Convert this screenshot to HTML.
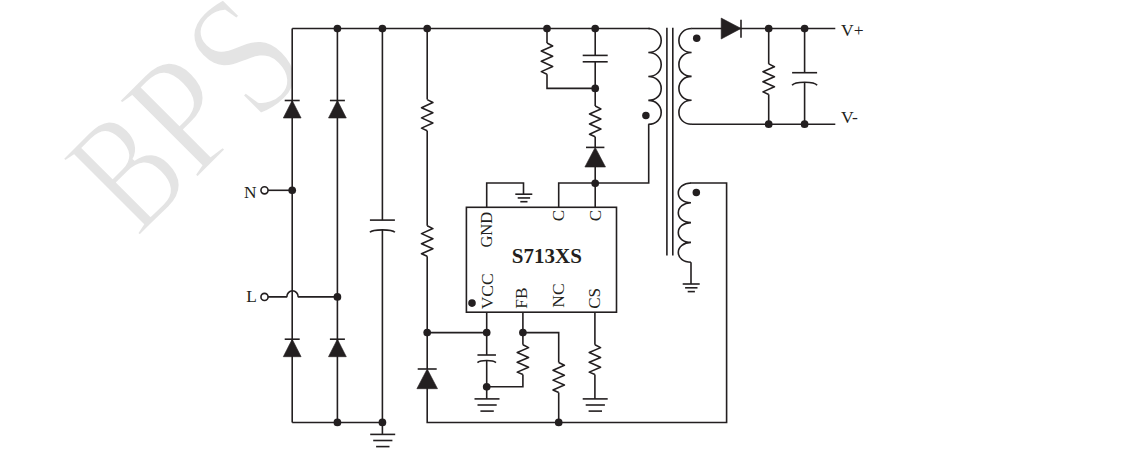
<!DOCTYPE html>
<html><head><meta charset="utf-8"><title>S713XS typical application</title>
<style>
html,body{margin:0;padding:0;background:#fff;}
body{width:1146px;height:469px;overflow:hidden;}
svg{display:block;}
svg text{font-family:"Liberation Serif",serif;fill:#231f20;stroke:none;}
</style></head><body>
<svg width="1146" height="469" viewBox="0 0 1146 469">
<rect width="1146" height="469" fill="#fff"/>
<defs><clipPath id="wm"><rect x="0" y="0" width="292.2" height="469"/></clipPath></defs>
<g clip-path="url(#wm)" style="fill:#e4e4e4" font-size="161">
<text transform="translate(137.6 238.4) rotate(-45) scale(0.76 1.04)" style="fill:#e4e4e4;stroke:#fff;stroke-width:2.5px" vector-effect="non-scaling-stroke">B</text>
<text transform="translate(194.0 181.4) rotate(-45) scale(0.9 1.045)" style="fill:#e4e4e4;stroke:#fff;stroke-width:2.5px" vector-effect="non-scaling-stroke">P</text>
<text transform="translate(257.4 123.7) rotate(-45) scale(0.86 1.09)" style="fill:#e4e4e4;stroke:#fff;stroke-width:2.5px" vector-effect="non-scaling-stroke">S</text>
</g>
<g fill="none" stroke="#231f20" stroke-linecap="butt" stroke-linejoin="miter">
<line x1="292.2" y1="28.55" x2="292.2" y2="422.45" stroke-width="1.6"/>
<line x1="337.4" y1="28.55" x2="337.4" y2="422.45" stroke-width="1.6"/>
<polyline points="292.20,28.55 650.00,28.55" stroke-width="1.6"/>
<polyline points="292.20,422.45 382.40,422.45" stroke-width="1.6"/>
<polygon points="292.2,100.5 283.3,118 301.09999999999997,118" fill="#231f20" stroke="#231f20" stroke-width="0.6"/>
<line x1="284.7" y1="100.5" x2="299.7" y2="100.5" stroke-width="1.6"/>
<polygon points="292.2,339.2 283.3,356.7 301.09999999999997,356.7" fill="#231f20" stroke="#231f20" stroke-width="0.6"/>
<line x1="284.7" y1="339.2" x2="299.7" y2="339.2" stroke-width="1.6"/>
<polygon points="337.4,100.5 328.5,118 346.29999999999995,118" fill="#231f20" stroke="#231f20" stroke-width="0.6"/>
<line x1="329.9" y1="100.5" x2="344.9" y2="100.5" stroke-width="1.6"/>
<polygon points="337.4,339.2 328.5,356.7 346.29999999999995,356.7" fill="#231f20" stroke="#231f20" stroke-width="0.6"/>
<line x1="329.9" y1="339.2" x2="344.9" y2="339.2" stroke-width="1.6"/>
<line x1="268" y1="190.3" x2="292.2" y2="190.3" stroke-width="1.6"/>
<path d="M268,296.9 H286.8 A5.7,6.1 0 0 1 298.2,296.9 H337.4" stroke-width="1.6" stroke-linejoin="bevel"/>
<circle cx="264.5" cy="190.3" r="3.55" fill="#fff" stroke-width="1.6"/>
<circle cx="264.5" cy="296.9" r="3.55" fill="#fff" stroke-width="1.6"/>
<circle cx="292.2" cy="190.3" r="3.85" fill="#231f20" stroke="none"/>
<circle cx="337.4" cy="296.9" r="3.85" fill="#231f20" stroke="none"/>
<circle cx="337.4" cy="28.55" r="3.85" fill="#231f20" stroke="none"/>
<circle cx="382.4" cy="28.55" r="3.85" fill="#231f20" stroke="none"/>
<circle cx="427.2" cy="28.55" r="3.85" fill="#231f20" stroke="none"/>
<circle cx="337.4" cy="422.45" r="3.85" fill="#231f20" stroke="none"/>
<circle cx="382.4" cy="422.45" r="3.85" fill="#231f20" stroke="none"/>
<text x="244.1" y="198.1" font-size="17.4" font-weight="normal" text-anchor="start">N</text>
<text x="246.2" y="302" font-size="17.4" font-weight="normal" text-anchor="start">L</text>
<line x1="382.4" y1="28.55" x2="382.4" y2="220.1" stroke-width="1.6"/>
<line x1="382.4" y1="229.9" x2="382.4" y2="433.95" stroke-width="1.6"/>
<line x1="369.9" y1="220.1" x2="394.9" y2="220.1" stroke-width="1.6"/>
<path d="M369.9,232.20000000000002 C371.4,230.70000000000002 374.9,229.9 382.4,229.9 S393.4,230.70000000000002 394.9,232.20000000000002" stroke-width="1.6" fill="none"/>
<line x1="370.2" y1="434.4" x2="395.2" y2="434.4" stroke-width="1.6"/>
<line x1="373.19999999999993" y1="440.5" x2="392.4" y2="440.5" stroke-width="1.6"/>
<line x1="376.09999999999997" y1="446.59999999999997" x2="389.49999999999994" y2="446.59999999999997" stroke-width="1.6"/>
<line x1="427.2" y1="28.55" x2="427.2" y2="99.6" stroke-width="1.6"/>
<polyline points="427.20,99.60 432.90,102.54 421.50,107.66 432.90,112.77 421.50,117.89 432.90,123.00 421.50,128.12 427.20,130.70" stroke-width="1.6" stroke-linejoin="round"/>
<line x1="427.2" y1="130.7" x2="427.2" y2="225.7" stroke-width="1.6"/>
<polyline points="427.20,225.70 432.90,228.59 421.50,233.63 432.90,238.66 421.50,243.69 432.90,248.73 421.50,253.76 427.20,256.30" stroke-width="1.6" stroke-linejoin="round"/>
<line x1="427.2" y1="256.3" x2="427.2" y2="369" stroke-width="1.6"/>
<polygon points="427.2,369 416.9,388.7 437.5,388.7" fill="#231f20" stroke="#231f20" stroke-width="0.6"/>
<line x1="417.7" y1="369" x2="436.7" y2="369" stroke-width="1.6"/>
<polyline points="427.20,388.00 427.20,422.45 726.60,422.45 726.60,183.00 690.40,183.00" stroke-width="1.6"/>
<circle cx="427.2" cy="332.6" r="3.85" fill="#231f20" stroke="none"/>
<rect x="466.4" y="207.3" width="150.1" height="104.9" fill="none" stroke-width="1.6"/>
<circle cx="472" cy="303.1" r="3.8" fill="#231f20" stroke="none"/>
<polyline points="486.70,207.30 486.70,183.00 523.50,183.00 523.50,194.20" stroke-width="1.6"/>
<line x1="515.3" y1="194.2" x2="532.3" y2="194.2" stroke-width="1.6"/>
<line x1="517.6999999999999" y1="197.95" x2="530.1" y2="197.95" stroke-width="1.6"/>
<line x1="520.3" y1="201.7" x2="527.5" y2="201.7" stroke-width="1.6"/>
<polyline points="558.70,207.30 558.70,183.00 648.70,183.00 648.70,124.30" stroke-width="1.6"/>
<line x1="595.2" y1="167" x2="595.2" y2="207.3" stroke-width="1.6"/>
<circle cx="595.2" cy="183.3" r="3.85" fill="#231f20" stroke="none"/>
<line x1="547" y1="28.55" x2="547" y2="43" stroke-width="1.6"/>
<polyline points="547.00,43.00 552.70,45.95 541.30,51.08 552.70,56.21 541.30,61.35 552.70,66.48 541.30,71.61 547.00,74.20" stroke-width="1.6" stroke-linejoin="round"/>
<polyline points="547.00,74.20 547.00,88.40 595.20,88.40" stroke-width="1.6"/>
<line x1="595.2" y1="28.55" x2="595.2" y2="55.4" stroke-width="1.6"/>
<line x1="595.2" y1="61.8" x2="595.2" y2="106" stroke-width="1.6"/>
<line x1="582.7" y1="55.4" x2="607.7" y2="55.4" stroke-width="1.6"/>
<line x1="582.7" y1="61.8" x2="607.7" y2="61.8" stroke-width="1.6"/>
<polyline points="595.20,106.00 600.90,108.90 589.50,113.95 600.90,119.00 589.50,124.05 600.90,129.10 589.50,134.15 595.20,136.70" stroke-width="1.6" stroke-linejoin="round"/>
<line x1="595.2" y1="136.7" x2="595.2" y2="147.4" stroke-width="1.6"/>
<polygon points="595.2,147.4 584.9000000000001,167 605.5,167" fill="#231f20" stroke="#231f20" stroke-width="0.6"/>
<line x1="586.0" y1="147.4" x2="604.4000000000001" y2="147.4" stroke-width="1.6"/>
<circle cx="547" cy="28.55" r="3.85" fill="#231f20" stroke="none"/>
<circle cx="595.2" cy="28.55" r="3.85" fill="#231f20" stroke="none"/>
<circle cx="595.2" cy="88.4" r="3.85" fill="#231f20" stroke="none"/>
<line x1="427.2" y1="332.6" x2="486.7" y2="332.6" stroke-width="1.6"/>
<line x1="486.7" y1="312.2" x2="486.7" y2="355" stroke-width="1.6"/>
<line x1="486.7" y1="360.8" x2="486.7" y2="398.9" stroke-width="1.6"/>
<line x1="477.45" y1="355" x2="495.95" y2="355" stroke-width="1.6"/>
<path d="M477.45,362.7 C478.95,361.3 482.45,360.5 486.7,360.5 S494.45,361.3 495.95,362.7" stroke-width="1.6" fill="none"/>
<line x1="474.5" y1="398.9" x2="499.5" y2="398.9" stroke-width="1.6"/>
<line x1="477.49999999999994" y1="405.0" x2="496.7" y2="405.0" stroke-width="1.6"/>
<line x1="480.4" y1="411.09999999999997" x2="493.79999999999995" y2="411.09999999999997" stroke-width="1.6"/>
<circle cx="486.7" cy="332.6" r="3.85" fill="#231f20" stroke="none"/>
<circle cx="486.7" cy="386.8" r="3.85" fill="#231f20" stroke="none"/>
<line x1="522.9" y1="312.2" x2="522.9" y2="344.8" stroke-width="1.6"/>
<polyline points="522.90,344.80 528.60,347.62 517.20,352.52 528.60,357.42 517.20,362.32 528.60,367.23 517.20,372.13 522.90,374.60" stroke-width="1.6" stroke-linejoin="round"/>
<polyline points="522.90,374.60 522.90,386.80 486.70,386.80" stroke-width="1.6"/>
<circle cx="522.9" cy="332.6" r="3.85" fill="#231f20" stroke="none"/>
<polyline points="522.90,332.60 558.70,332.60 558.70,362.50" stroke-width="1.6"/>
<polyline points="558.70,362.50 564.40,365.34 553.00,370.27 564.40,375.21 553.00,380.14 564.40,385.08 553.00,390.01 558.70,392.50" stroke-width="1.6" stroke-linejoin="round"/>
<line x1="558.7" y1="392.5" x2="558.7" y2="422.45" stroke-width="1.6"/>
<circle cx="558.7" cy="422.45" r="3.85" fill="#231f20" stroke="none"/>
<line x1="594.9" y1="312.2" x2="594.9" y2="344.8" stroke-width="1.6"/>
<polyline points="594.90,344.80 600.60,347.62 589.20,352.52 600.60,357.42 589.20,362.32 600.60,367.23 589.20,372.13 594.90,374.60" stroke-width="1.6" stroke-linejoin="round"/>
<line x1="594.9" y1="374.6" x2="594.9" y2="398.9" stroke-width="1.6"/>
<line x1="582.6999999999999" y1="398.9" x2="607.6999999999999" y2="398.9" stroke-width="1.6"/>
<line x1="585.6999999999999" y1="405.0" x2="604.9" y2="405.0" stroke-width="1.6"/>
<line x1="588.5999999999999" y1="411.09999999999997" x2="602.0" y2="411.09999999999997" stroke-width="1.6"/>
<path d="M648.3,28.55 c7.48,0 12.90,5.27 12.90,11.97 s-4.90,11.97 -12.90,11.97 c7.48,0 12.90,5.27 12.90,11.97 s-4.90,11.97 -12.90,11.97 c7.48,0 12.90,5.27 12.90,11.97 s-4.90,11.97 -12.90,11.97 c7.48,0 12.90,5.27 12.90,11.97 s-4.90,11.97 -12.90,11.97" stroke-width="1.6" fill="none"/>
<line x1="666.9" y1="27.7" x2="666.9" y2="255.6" stroke-width="1.6"/>
<line x1="672.8" y1="27.7" x2="672.8" y2="255.6" stroke-width="1.6"/>
<path d="M691.6,28.55 c-7.37,0 -12.70,5.26 -12.70,11.96 s4.83,11.96 12.70,11.96 c-7.37,0 -12.70,5.26 -12.70,11.96 s4.83,11.96 12.70,11.96 c-7.37,0 -12.70,5.26 -12.70,11.96 s4.83,11.96 12.70,11.96 c-7.37,0 -12.70,5.26 -12.70,11.96 s4.83,11.96 12.70,11.96" stroke-width="1.6" fill="none"/>
<path d="M691.0,183.0 c-7.37,0 -12.70,4.36 -12.70,9.90 s4.83,9.90 12.70,9.90 c-7.37,0 -12.70,4.36 -12.70,9.90 s4.83,9.90 12.70,9.90 c-7.37,0 -12.70,4.36 -12.70,9.90 s4.83,9.90 12.70,9.90 c-7.37,0 -12.70,4.36 -12.70,9.90 s4.83,9.90 12.70,9.90" stroke-width="1.6" fill="none"/>
<circle cx="645.9" cy="115.4" r="3.75" fill="#231f20" stroke="none"/>
<circle cx="696.7" cy="38.3" r="3.75" fill="#231f20" stroke="none"/>
<circle cx="696.3" cy="192.4" r="3.75" fill="#231f20" stroke="none"/>
<polyline points="691.00,262.20 691.00,284.00" stroke-width="1.6"/>
<line x1="682.6999999999999" y1="284" x2="699.6999999999999" y2="284" stroke-width="1.6"/>
<line x1="685.0999999999999" y1="287.8" x2="697.5" y2="287.8" stroke-width="1.6"/>
<line x1="687.6999999999999" y1="291.6" x2="694.9" y2="291.6" stroke-width="1.6"/>
<line x1="691.2" y1="28.55" x2="835.3" y2="28.55" stroke-width="1.6"/>
<line x1="691.2" y1="124.2" x2="835.3" y2="124.2" stroke-width="1.6"/>
<polygon points="721.2,18.1 721.2,39 741,28.4" fill="#231f20" stroke="#231f20" stroke-width="0.6"/>
<line x1="741" y1="19.8" x2="741" y2="37.7" stroke-width="1.6"/>
<line x1="768.7" y1="28.55" x2="768.7" y2="63.9" stroke-width="1.6"/>
<polyline points="768.70,63.90 774.40,66.78 763.00,71.80 774.40,76.82 763.00,81.84 774.40,86.85 763.00,91.87 768.70,94.40" stroke-width="1.6" stroke-linejoin="round"/>
<line x1="768.7" y1="94.4" x2="768.7" y2="124.2" stroke-width="1.6"/>
<line x1="804.6" y1="28.55" x2="804.6" y2="72.7" stroke-width="1.6"/>
<line x1="804.6" y1="82.3" x2="804.6" y2="124.2" stroke-width="1.6"/>
<line x1="792.1" y1="72.7" x2="817.1" y2="72.7" stroke-width="1.6"/>
<path d="M792.1,85.3 C793.6,83.1 797.1,82.3 804.6,82.3 S815.6,83.1 817.1,85.3" stroke-width="1.6" fill="none"/>
<circle cx="768.7" cy="28.55" r="3.85" fill="#231f20" stroke="none"/>
<circle cx="804.6" cy="28.55" r="3.85" fill="#231f20" stroke="none"/>
<circle cx="768.7" cy="124.2" r="3.85" fill="#231f20" stroke="none"/>
<circle cx="804.6" cy="124.2" r="3.85" fill="#231f20" stroke="none"/>
<text x="841" y="35.8" font-size="17.5" font-weight="normal" text-anchor="start">V+</text>
<text x="841" y="122.5" font-size="17.6" font-weight="normal" text-anchor="start">V-</text>
<text x="492.4" y="247.6" font-size="16.6" font-weight="normal" text-anchor="start" transform="rotate(-90 492.4 247.6)">GND</text>
<text x="564.3" y="221.3" font-size="17" font-weight="normal" text-anchor="start" transform="rotate(-90 564.3 221.3)">C</text>
<text x="601" y="221.3" font-size="17" font-weight="normal" text-anchor="start" transform="rotate(-90 601 221.3)">C</text>
<text x="492.8" y="309.3" font-size="17.5" font-weight="normal" text-anchor="start" transform="rotate(-90 492.8 309.3)">VCC</text>
<text x="527.5" y="308.7" font-size="17.3" font-weight="normal" text-anchor="start" transform="rotate(-90 527.5 308.7)">FB</text>
<text x="563.8" y="307.7" font-size="17.6" font-weight="normal" text-anchor="start" transform="rotate(-90 563.8 307.7)">NC</text>
<text x="599.9" y="308.8" font-size="17" font-weight="normal" text-anchor="start" transform="rotate(-90 599.9 308.8)">CS</text>
<text x="546.8" y="263" font-size="21" font-weight="bold" text-anchor="middle">S713XS</text>
</g>
</svg>
</body></html>
